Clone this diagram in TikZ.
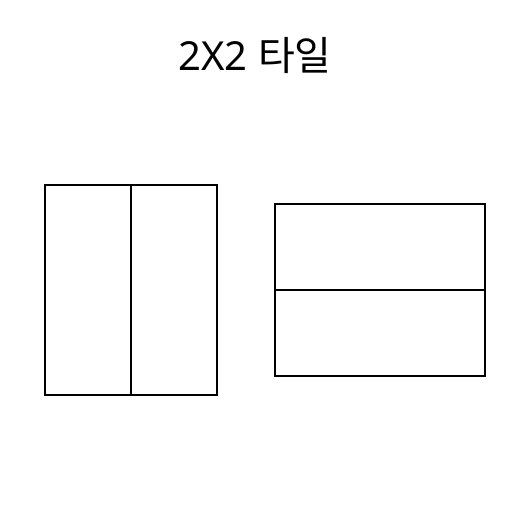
\documentclass[tikz,border=0pt]{standalone}
\usepackage{fontspec}
\setmainfont{Noto Sans}
\newfontfamily\kofont{Noto Sans CJK KR}
\begin{document}
\begin{tikzpicture}[x=1pt,y=-1pt,
  tile/.style={draw=black,line width=2pt,inner sep=0pt,anchor=north west},
  title/.style={font=\fontsize{40}{48}\selectfont,inner sep=0pt,anchor=base}]
\useasboundingbox (0,0) rectangle (512,512);
\node[title] (t) at (255,70) {2X2 {\kofont 타일}};
\node[tile,minimum width=86pt,minimum height=210pt] (a1) at (44,184) {};
\node[tile,minimum width=86pt,minimum height=210pt] (a2) at (130,184) {};
\node[tile,minimum width=210pt,minimum height=86pt] (b1) at (274,203) {};
\node[tile,minimum width=210pt,minimum height=86pt] (b2) at (274,289) {};
\end{tikzpicture}
\end{document}
